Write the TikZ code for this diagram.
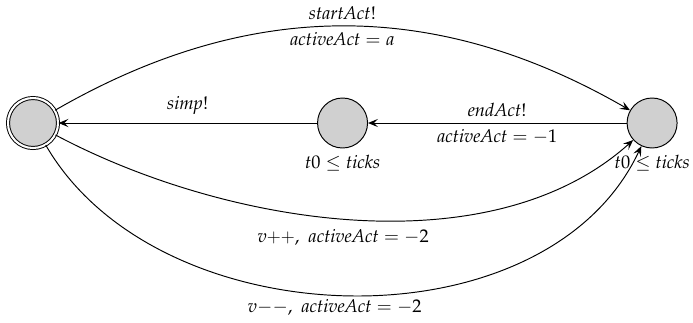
\documentclass[tikz,border=0pt]{standalone}
\usepackage{amsmath,amssymb}
\usepackage{mathpazo}
\usetikzlibrary{arrows.meta,positioning}
\definecolor{locfill}{HTML}{D0D0D0}
\tikzset{
  loc/.style={circle, draw, semithick, fill=locfill, minimum size=1.1cm, inner sep=0pt},
  initloc/.style={loc, double, double distance=1.3pt},
  trans/.style={-{Stealth[length=2.2mm, width=1.8mm, inset=0.9mm]}, semithick},
  tlabel/.style={font=\fontsize{11.5}{13}\selectfont, inner sep=3.5pt}
}
\begin{document}
\begin{tikzpicture}[node distance=6.81cm, on grid]
    \useasboundingbox (-0.726,-4.378) rectangle (14.52,2.706);
    \node[initloc] (idle) at (0,0) {};
    \node[loc, right=of idle, label={[tlabel, inner sep=4pt]below:$t0 \leq \mathit{ticks}$}] (wait) {};
    \node[loc, right=of wait, label={[tlabel, inner sep=4pt]below:$t0 \leq \mathit{ticks}$}] (active) {};
    \draw[trans] (idle) to[bend left=30]
      node[tlabel, above] {$\mathit{startAct}!$}
      node[tlabel, below] {$\mathit{activeAct} = a$} (active);
    \draw[trans] (active) -- node[tlabel, above] {$\mathit{endAct}!$}
      node[tlabel, below] {$\mathit{activeAct} = -1$} (wait);
    \draw[trans] (wait) -- node[tlabel, above, inner sep=5pt] {$\mathit{simp}!$} (idle);
    \draw[trans] (idle) to[out=-28, in=-138, looseness=0.85]
      node[tlabel, below, inner sep=6pt, xshift=-0.25cm] {$v\text{++},\ \mathit{activeAct} = -2$} (active);
    \draw[trans] (idle) to[out=-60, in=-115, looseness=0.97]
      node[tlabel, below, inner sep=2pt, xshift=-0.34cm] {$v{-}{-},\ \mathit{activeAct} = -2$} (active);
\end{tikzpicture}
\end{document}
